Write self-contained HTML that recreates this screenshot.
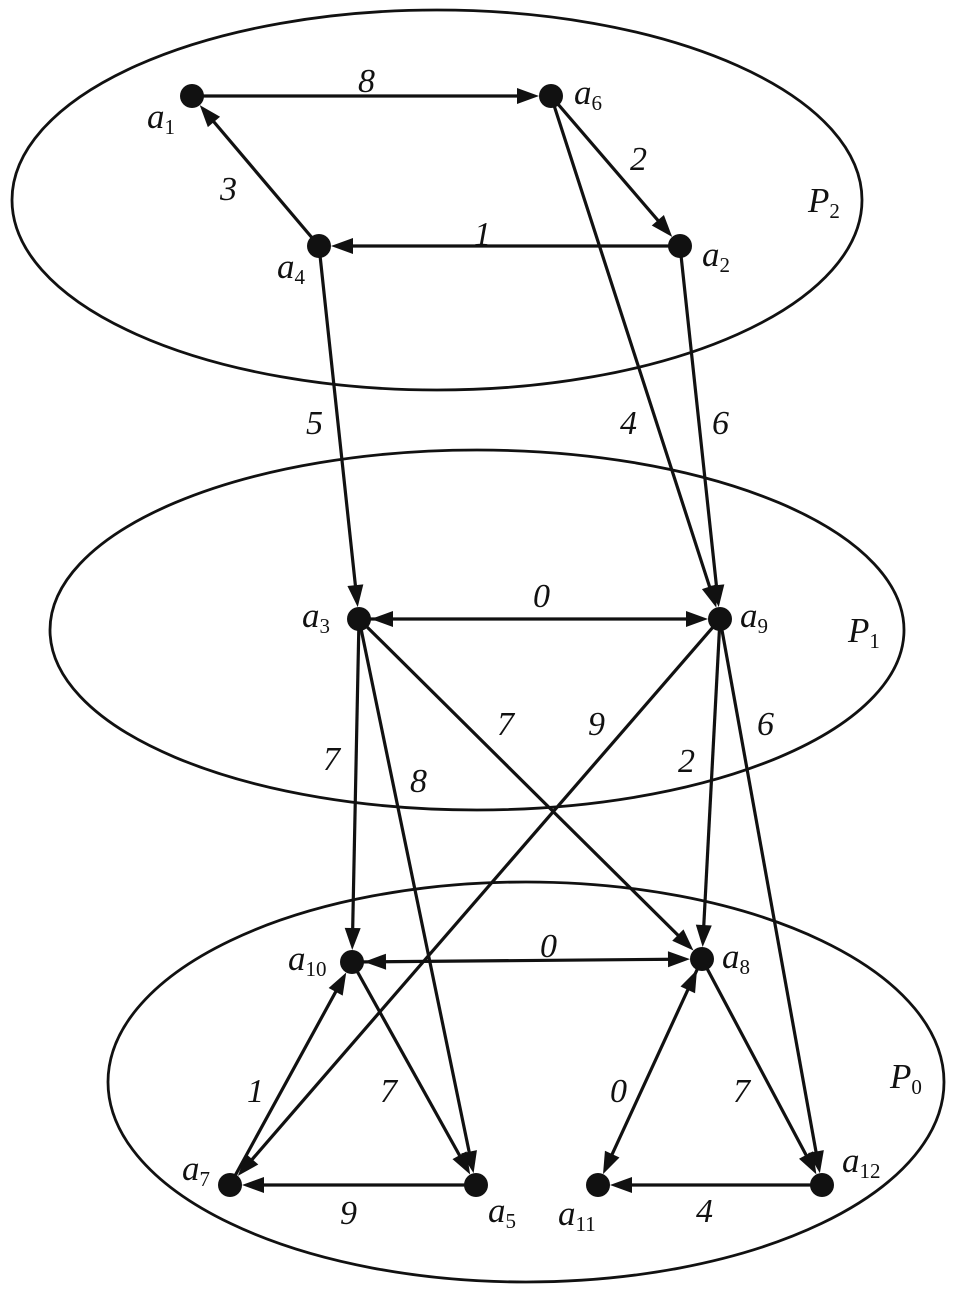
<!DOCTYPE html>
<html><head><meta charset="utf-8"><style>
html,body{margin:0;padding:0;background:#fff;width:966px;height:1291px;overflow:hidden}
svg text{font-family:"Liberation Serif",serif;font-style:italic;fill:#111}
</style></head><body>
<svg id="s" width="966" height="1291" viewBox="0 0 966 1291" xmlns="http://www.w3.org/2000/svg">
<g fill="none" stroke="#111" stroke-width="2.8">
<ellipse cx="437" cy="200" rx="425" ry="190"/>
<ellipse cx="477" cy="630" rx="427" ry="180"/>
<ellipse cx="526" cy="1082" rx="418" ry="200"/>
</g>
<g id="edges"></g>
<g id="nodes"></g>
<g font-size="34">
<text x="358" y="92">8</text>
<text x="630" y="170">2</text>
<text x="220" y="200">3</text>
<text x="474" y="245">1</text>
<text x="306" y="434">5</text>
<text x="620" y="434">4</text>
<text x="712" y="434">6</text>
<text x="533" y="607">0</text>
<text x="497" y="735">7</text>
<text x="588" y="735">9</text>
<text x="757" y="735">6</text>
<text x="323" y="770">7</text>
<text x="410" y="792">8</text>
<text x="678" y="772">2</text>
<text x="540" y="957">0</text>
<text x="247" y="1102">1</text>
<text x="380" y="1102">7</text>
<text x="610" y="1102">0</text>
<text x="733" y="1102">7</text>
<text x="340" y="1224">9</text>
<text x="696" y="1222">4</text>
</g>
<g font-size="35">
<text x="147" y="128">a<tspan font-size="21" font-style="normal" dy="6">1</tspan></text>
<text x="574" y="104">a<tspan font-size="21" font-style="normal" dy="6">6</tspan></text>
<text x="277" y="278">a<tspan font-size="21" font-style="normal" dy="6">4</tspan></text>
<text x="702" y="266">a<tspan font-size="21" font-style="normal" dy="6">2</tspan></text>
<text x="808" y="212">P<tspan font-size="21" font-style="normal" dy="6">2</tspan></text>
<text x="302" y="627">a<tspan font-size="21" font-style="normal" dy="6">3</tspan></text>
<text x="740" y="627">a<tspan font-size="21" font-style="normal" dy="6">9</tspan></text>
<text x="848" y="642">P<tspan font-size="21" font-style="normal" dy="6">1</tspan></text>
<text x="288" y="970">a<tspan font-size="21" font-style="normal" dy="6">10</tspan></text>
<text x="722" y="968">a<tspan font-size="21" font-style="normal" dy="6">8</tspan></text>
<text x="890" y="1088">P<tspan font-size="21" font-style="normal" dy="6">0</tspan></text>
<text x="182" y="1180">a<tspan font-size="21" font-style="normal" dy="6">7</tspan></text>
<text x="488" y="1222">a<tspan font-size="21" font-style="normal" dy="6">5</tspan></text>
<text x="558" y="1225">a<tspan font-size="21" font-style="normal" dy="6">11</tspan></text>
<text x="842" y="1172">a<tspan font-size="21" font-style="normal" dy="6">12</tspan></text>
</g>
</svg>
<script>
var N={a1:[192,96],a6:[551,96],a4:[319,246],a2:[680,246],a3:[359,619],a9:[720,619],a10:[352,962],a8:[702,959],a7:[230,1185],a5:[476,1185],a11:[598,1185],a12:[822,1185]};
var E=[["a1","a6",0],["a6","a2",0],["a4","a1",0],["a2","a4",0],["a4","a3",0],["a6","a9",0],["a2","a9",0],["a3","a9",1],["a3","a10",0],["a3","a5",0],["a3","a8",0],["a9","a7",0],["a9","a8",0],["a9","a12",0],["a10","a8",1],["a7","a10",0],["a10","a5",0],["a5","a7",0],["a8","a11",1],["a8","a12",0],["a12","a11",0]];
var ns="http://www.w3.org/2000/svg",eg=document.getElementById("edges"),ng=document.getElementById("nodes");
function el(t,a,p){var e=document.createElementNS(ns,t);for(var k in a)e.setAttribute(k,a[k]);p.appendChild(e);return e;}
function head(tx,ty,ux,uy){var L=22,W=8,bx=tx-ux*L,by=ty-uy*L;el("polygon",{points:tx+","+ty+" "+(bx-uy*W)+","+(by+ux*W)+" "+(bx+uy*W)+","+(by-ux*W),fill:"#111"},eg);}
E.forEach(function(e){var a=N[e[0]],b=N[e[1]],dx=b[0]-a[0],dy=b[1]-a[1],d=Math.hypot(dx,dy),ux=dx/d,uy=dy/d,r=12;
var sx=a[0]+ux*r,sy=a[1]+uy*r,tx=b[0]-ux*r,ty=b[1]-uy*r;
el("line",{x1:a[0],y1:a[1],x2:tx-ux*15,y2:ty-uy*15,stroke:"#111","stroke-width":3.2},eg);
head(tx,ty,ux,uy);if(e[2])head(sx,sy,-ux,-uy);});
for(var k in N)el("circle",{cx:N[k][0],cy:N[k][1],r:12,fill:"#111"},ng);
</script>
</body></html>
